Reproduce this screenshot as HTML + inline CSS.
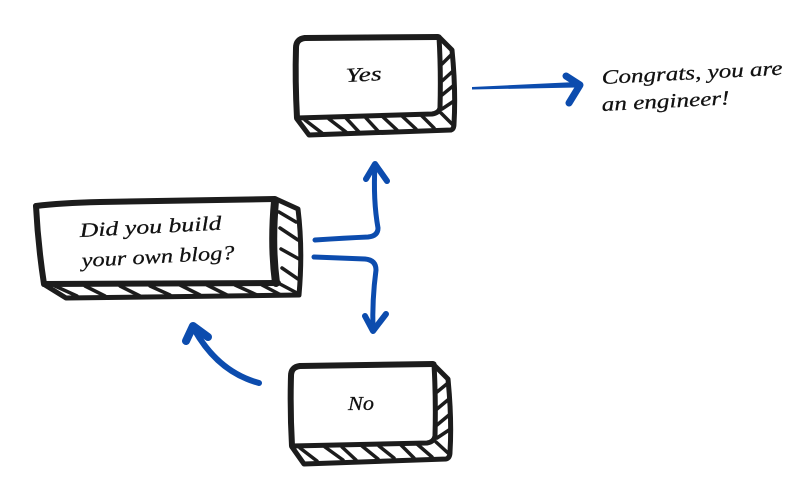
<!DOCTYPE html>
<html>
<head>
<meta charset="utf-8">
<style>
html,body{margin:0;padding:0;background:#fff;width:800px;height:500px;overflow:hidden}
svg{display:block}
text{font-family:"Liberation Serif",serif;font-style:italic;fill:#111;stroke:#111;stroke-width:.25px;font-size:20px}
.k{fill:none;stroke:#1c1c1c;stroke-linecap:round;stroke-linejoin:round}
.b{fill:none;stroke:#0c4cae;stroke-linecap:round;stroke-linejoin:round}
</style>
</head>
<body>
<svg width="800" height="500" viewBox="0 0 800 500" xmlns="http://www.w3.org/2000/svg">
<!-- Yes box -->
<g>
<path class="k" stroke-width="5" d="M439 37 L452 50 Q456 90 454 124 Q454 129 451 130 L309 135 L297 119"/>
<path class="k" stroke-width="3.5" d="M442 64 L452 54M442 81 L453 71M442 95 L453 86M442 109 L454 101M441 113 L453 125"/>
<path class="k" stroke-width="3.5" d="M305 120 L322 133M329 119 L346 132M346 118 L359 132M366 118 L378 131M383 117 L397 130M402 116 L416 129M421 115 L434 128"/>
<path class="k" stroke-width="6" d="M305 38 L438 37"/>
<path class="k" stroke-width="6" d="M305 38 Q296 39 296 48 Q295 80 297 118"/>
<path class="k" stroke-width="5" d="M297 118 L432 114 Q439 113 440 108 Q441 70 439 37"/>
<text x="346" y="82" font-size="26" textLength="36" lengthAdjust="spacingAndGlyphs" transform="rotate(-3 346 82)">Yes</text>
</g>
<!-- Did you build box -->
<g>
<path class="k" stroke-width="5" d="M276 199 L298 209 Q303 250 299 295 L66 298 L45 285"/>
<path class="k" stroke-width="3.5" d="M279 212 L296 222M280 228 L298 240M281 249 L299 259M282 268 L298 279M280 284 L297 293"/>
<path class="k" stroke-width="3.5" d="M55 286 L77 296M85 286 L105 296M120 286 L140 296M150 286 L170 295M180 285 L200 295M207 285 L227 295M235 285 L257 295M262 285 L281 295"/>
<path class="k" stroke-width="6" d="M36 206 Q60 203 100 202 L275 199"/>
<path class="k" stroke-width="6" d="M36 206 Q38 245 44 284 L278 283"/>
<path class="k" stroke-width="8" d="M275 201 Q271 245 276 283"/>
<text x="80" y="237" font-size="27" textLength="142" lengthAdjust="spacingAndGlyphs" transform="rotate(-3 80 237)">Did you build</text>
<text x="82" y="267" font-size="27" textLength="153" lengthAdjust="spacingAndGlyphs" transform="rotate(-3 82 267)">your own blog?</text>
</g>
<!-- No box -->
<g>
<path class="k" stroke-width="5" d="M434 365 L448 379 Q452 420 450 452 Q450 458 446 459 L304 464 L292 447"/>
<path class="k" stroke-width="3.5" d="M437 392 L448 383M437 409 L449 399M437 425 L449 415M437 438 L449 430M436 442 L448 453"/>
<path class="k" stroke-width="3.5" d="M300 448 L317 461M325 447 L343 460M342 447 L356 460M362 446 L378 459M379 446 L394 458M401 445 L414 458M417 444 L432 457"/>
<path class="k" stroke-width="6" d="M300 366 L433 364"/>
<path class="k" stroke-width="6" d="M300 366 Q291 367 291 376 Q290 410 292 446"/>
<path class="k" stroke-width="5" d="M292 446 L427 443 Q434 442 435 436 Q436 400 434 364"/>
<text x="348" y="410" font-size="25" textLength="26" lengthAdjust="spacingAndGlyphs">No</text>
</g>
<!-- Arrows -->
<path d="M472 87 L576 82 L577 87.5 L472 89.5 Z" fill="#0c4cae"/>
<path class="b" stroke-width="7" d="M566 76 L580 85 L569 103"/>
<path class="b" stroke-width="5" d="M315 240 Q345 238 368 237 Q378 236 378 228 Q373 200 375 165"/>
<path class="b" stroke-width="6" d="M366 179 L375 164 L387 181"/>
<path class="b" stroke-width="5" d="M314 257 Q340 258 365 259 Q376 260 376 270 Q372 300 373 330"/>
<path class="b" stroke-width="6" d="M365 316 L373 331 L386 314"/>
<path class="b" stroke-width="6" d="M259 383 Q218 372 194 329"/>
<path class="b" stroke-width="8" d="M186 341 L193 326 L208 337"/>
<!-- Note -->
<text x="602" y="84" font-size="26" textLength="181" lengthAdjust="spacingAndGlyphs" transform="rotate(-3 602 84)">Congrats, you are</text>
<text x="602" y="111" font-size="26" textLength="128" lengthAdjust="spacingAndGlyphs" transform="rotate(-3 602 111)">an engineer!</text>
</svg>
</body>
</html>
